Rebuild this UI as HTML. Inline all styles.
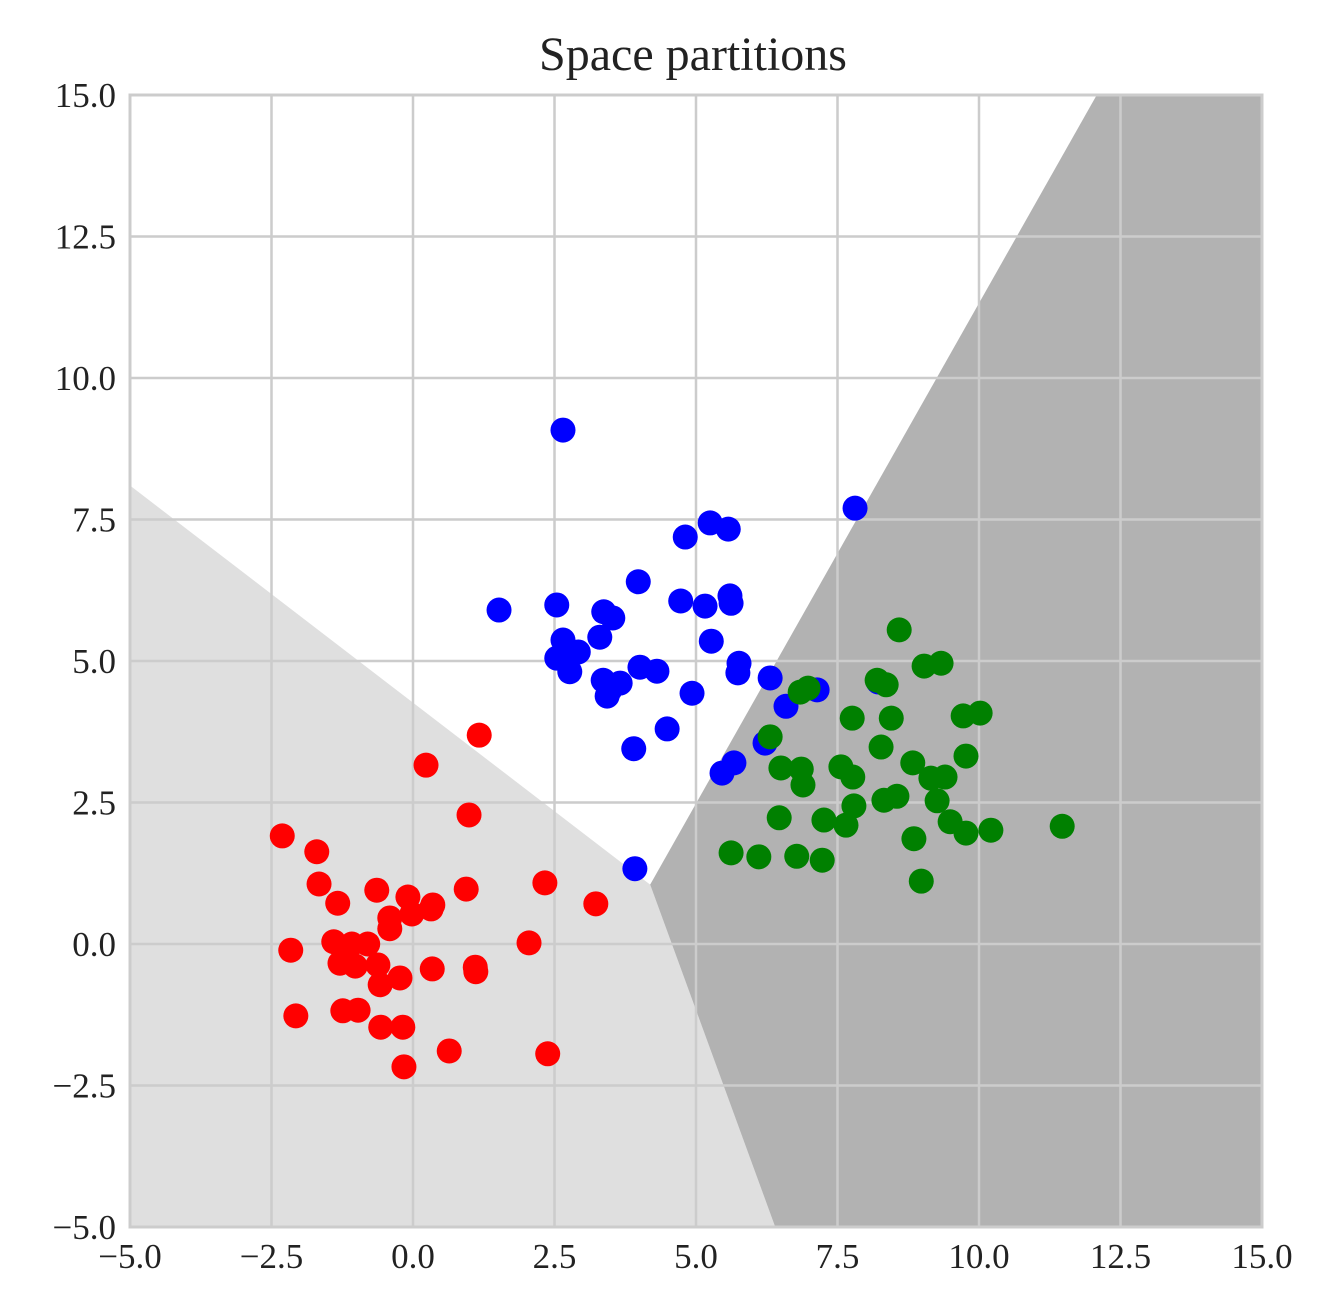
<!DOCTYPE html>
<html><head><meta charset="utf-8"><style>
body{margin:0;background:#fff;}
svg text{font-family:"Liberation Serif",serif;fill:#222;}
</style></head><body>
<svg id="chart" width="1329" height="1309" xmlns="http://www.w3.org/2000/svg">
<text x="693" y="70" font-size="48" text-anchor="middle">Space partitions</text>
<g id="regions"></g><g id="grid"></g>
<rect x="130" y="95" width="1132" height="1132" fill="none" stroke="#ccc" stroke-width="3"/>
<g id="ticks"></g><g id="points"></g>
</svg>
<script>
const xTicks=[-5,-2.5,0,2.5,5,7.5,10,12.5,15];
const yTicks=[-5,-2.5,0,2.5,5,7.5,10,12.5,15];
const lightRegion=[[-5,-5],[6.4,-5],[4.19,1.05],[-5,8.1]];
const darkRegion=[[6.4,-5],[15,-5],[15,15],[12.08,15],[4.19,1.05]];
const redX=[-2.31,-2.16,-2.07,-1.70,-1.66,-1.33,-1.40,-1.29,-1.08,-1.02,-1.24,-0.97,-0.80,-0.64,-0.62,-0.58,-0.57,-0.41,-0.41,-0.23,-0.18,-0.16,-0.09,-0.02,0.32,0.35,0.34,0.23,0.64,0.94,0.99,1.10,1.11,1.17,2.05,2.33,2.38,3.23];
const redY=[1.91,-0.11,-1.27,1.63,1.06,0.72,0.04,-0.34,0,-0.39,-1.18,-1.17,0,0.95,-0.37,-0.72,-1.47,0.46,0.27,-0.60,-1.47,-2.17,0.83,0.53,0.62,0.69,-0.44,3.16,-1.89,0.97,2.28,-0.41,-0.49,3.69,0.02,1.08,-1.94,0.71];
const blueX=[2.65,1.52,2.54,2.65,2.69,2.54,2.77,2.92,3.30,3.37,3.53,3.36,3.43,3.48,3.66,3.98,4.01,4.31,3.90,3.92,4.49,4.81,5.25,5.57,4.73,5.16,5.60,5.62,5.27,4.93,5.76,5.74,5.46,5.67,6.31,6.59,6.22,7.14,7.81,8.22];
const blueY=[9.08,5.90,5.99,5.37,5.02,5.05,4.81,5.16,5.42,5.87,5.76,4.66,4.38,4.49,4.61,6.40,4.89,4.82,3.45,1.33,3.80,7.19,7.44,7.33,6.06,5.97,6.15,6.02,5.35,4.43,4.96,4.79,3.02,3.20,4.70,4.20,3.55,4.49,7.70,4.63];
const greenX=[8.59,9.03,9.33,8.20,8.36,6.84,6.98,7.76,8.45,9.72,10.02,6.31,8.27,9.77,6.50,6.86,7.56,7.77,8.83,9.15,9.40,6.89,7.79,8.32,8.55,9.26,6.47,7.26,7.65,9.49,9.77,10.21,11.47,5.62,6.11,6.78,7.23,8.85,8.98];
const greenY=[5.55,4.91,4.96,4.66,4.58,4.45,4.52,3.99,3.99,4.03,4.08,3.66,3.48,3.32,3.11,3.09,3.13,2.95,3.20,2.93,2.95,2.81,2.44,2.54,2.61,2.53,2.23,2.19,2.10,2.16,1.96,2.01,2.08,1.61,1.54,1.55,1.48,1.86,1.11];
const NS="http://www.w3.org/2000/svg";
const sx=v=>130+(v+5)*56.6, sy=v=>1227-(v+5)*56.6;
function mk(t,p,a){const e=document.createElementNS(NS,t);for(const k in a)e.setAttribute(k,a[k]);p.appendChild(e);return e;}
const R=document.getElementById('regions'),G=document.getElementById('grid'),T=document.getElementById('ticks'),P=document.getElementById('points');
let e=mk('polygon',R,{points:lightRegion.map(p=>sx(p[0])+','+sy(p[1])).join(' '),fill:'#dfdfdf'});


e=mk('polygon',R,{points:darkRegion.map(p=>sx(p[0])+','+sy(p[1])).join(' '),fill:'#b2b2b2'});


const fmt=v=>(v<0?'\u2212':'')+Math.abs(v).toFixed(1);
xTicks.forEach(v=>{
 let l=mk('line',G,{x1:sx(v),x2:sx(v),y1:95,y2:1227,stroke:'#ccc','stroke-width':2.5});
 
 
 let t=mk('text',T,{x:sx(v),y:1268,'font-size':35,'text-anchor':'middle'});t.textContent=fmt(v);
 
 
});
yTicks.forEach(v=>{
 let l=mk('line',G,{x1:130,x2:1262,y1:sy(v),y2:sy(v),stroke:'#ccc','stroke-width':2.5});
 
 
 let t=mk('text',T,{x:116,y:sy(v)+12,'font-size':35,'text-anchor':'end'});t.textContent=fmt(v);
 
 
});
function pts(xs,ys,col,name){xs.forEach((x,i)=>{
 let c=mk('circle',P,{cx:sx(x),cy:sy(ys[i]),r:12.5,fill:col});
 
 
});}
pts(redX,redY,'#ff0000','red-point');
pts(blueX,blueY,'#0000ff','blue-point');
pts(greenX,greenY,'#008000','green-point');
</script>
</body></html>
